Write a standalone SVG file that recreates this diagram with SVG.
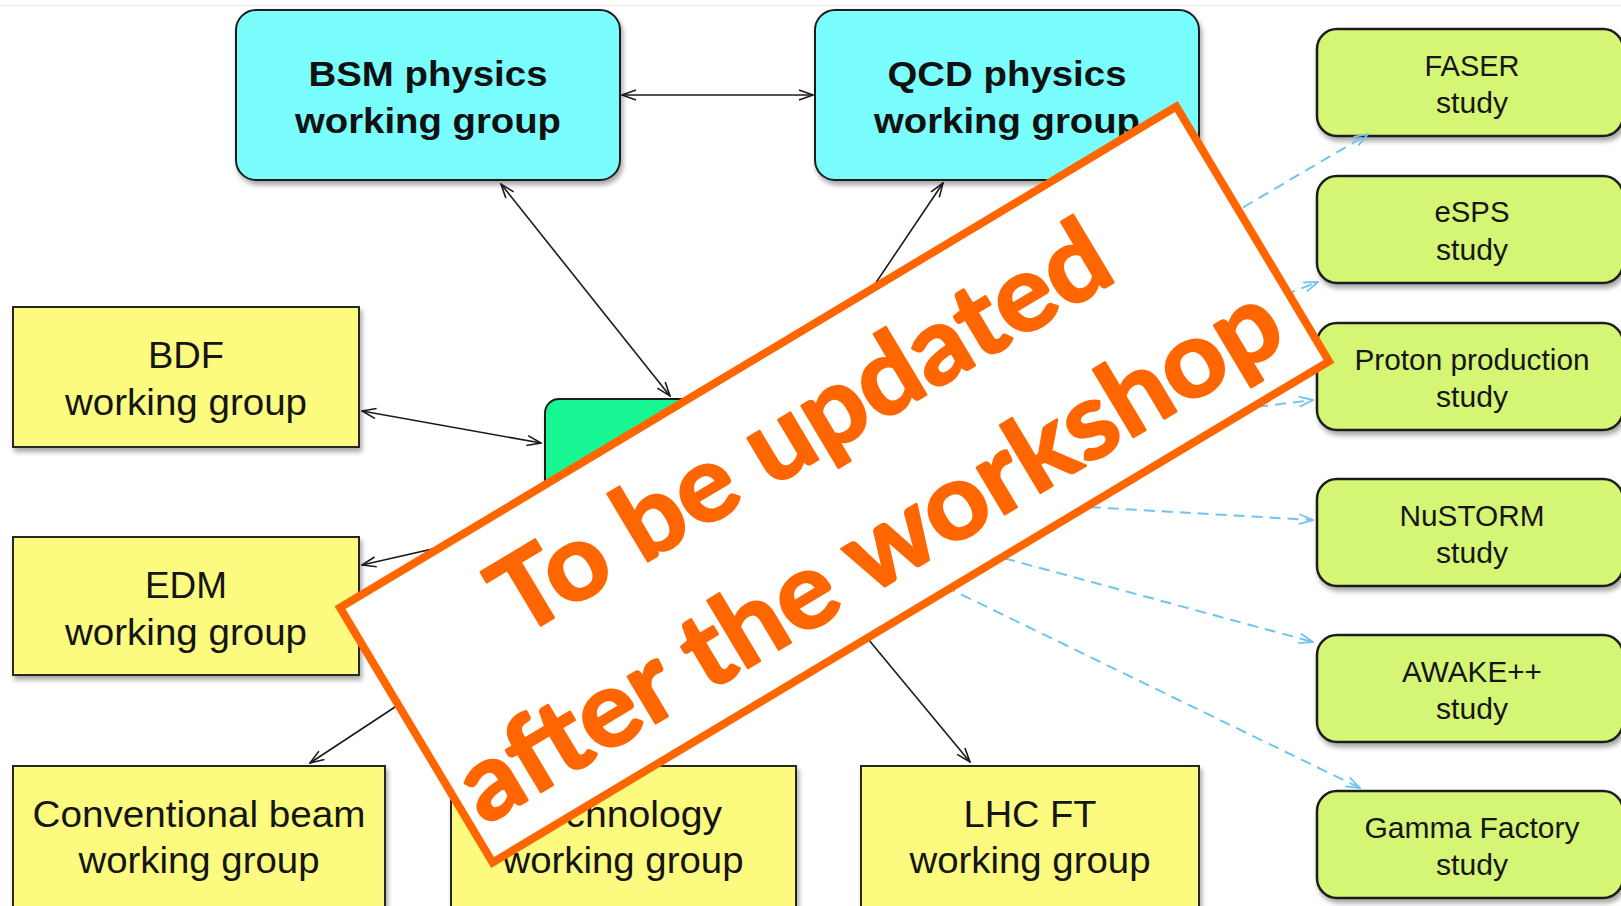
<svg xmlns="http://www.w3.org/2000/svg" width="1621" height="906" viewBox="0 0 1621 906">
  <defs>
    <filter id="shadow" x="-10%" y="-10%" width="130%" height="140%">
      <feDropShadow dx="2" dy="4" stdDeviation="2.5" flood-color="#000" flood-opacity="0.35"/>
    </filter>
    <marker id="arrow" viewBox="0 0 16 12" refX="15" refY="6" markerWidth="16" markerHeight="12" markerUnits="userSpaceOnUse" orient="auto-start-reverse">
      <path d="M1,1 L15,6 L1,11" fill="none" stroke="#1a1a1a" stroke-width="1.6"/>
    </marker>
    <marker id="arrow-blue" viewBox="0 0 16 12" refX="15" refY="6" markerWidth="16" markerHeight="12" markerUnits="userSpaceOnUse" orient="auto">
      <path d="M1,1 L15,6 L1,11" fill="none" stroke="#72c4ee" stroke-width="1.8"/>
    </marker>
    <style>
      .physics rect { fill: #79fdfd; stroke: #1e1e1e; stroke-width: 2; filter: url(#shadow); }
      .physics text { font-family: "Liberation Sans", Arial, sans-serif; font-weight: bold; font-size: 35px; fill: #111; text-anchor: middle; }
      .wg rect { fill: #fdfb7f; stroke: #262626; stroke-width: 2; filter: url(#shadow); }
      .wg text { font-family: "Liberation Sans", Arial, sans-serif; font-size: 37px; fill: #151515; text-anchor: middle; }
      .study rect { fill: #d5f575; stroke: #1f1f1f; stroke-width: 2.5; filter: url(#shadow); }
      .study text { font-family: "Liberation Sans", Arial, sans-serif; font-size: 30px; fill: #161616; text-anchor: middle; }
      .core rect { fill: #16f794; stroke: #1e1e1e; stroke-width: 2; filter: url(#shadow); }
      .link { stroke: #1a1a1a; stroke-width: 1.6; fill: none; }
      .two-way { marker-start: url(#arrow); marker-end: url(#arrow); }
      .one-way { marker-end: url(#arrow); }
      .feed { stroke: #72c4ee; stroke-width: 2; stroke-dasharray: 11 7; fill: none; marker-end: url(#arrow-blue); }
      .notice rect { fill: #ffffff; stroke: #ff6600; stroke-width: 8; }
      .notice text { font-family: Lato, "Open Sans", sans-serif; font-weight: bold; font-size: 106px; fill: #ff6600; stroke: #ff6600; stroke-width: 2.5; stroke-linejoin: round; text-anchor: middle; }
    </style>
  </defs>

  <rect width="1621" height="906" fill="#ffffff"/>
  <line x1="0" y1="5.5" x2="1621" y2="5.5" stroke="#ececec" stroke-width="1"/>

  <!-- nodes -->
  <g id="bsm-physics" class="physics">
    <rect x="236" y="10" width="384" height="170" rx="20"/>
    <text x="428" y="86" textLength="239" lengthAdjust="spacingAndGlyphs">BSM physics</text>
    <text x="428" y="133" textLength="266" lengthAdjust="spacingAndGlyphs">working group</text>
  </g>
  <g id="qcd-physics" class="physics">
    <rect x="815" y="10" width="384" height="170" rx="20"/>
    <text x="1007" y="86" textLength="239" lengthAdjust="spacingAndGlyphs">QCD physics</text>
    <text x="1007" y="133" textLength="266" lengthAdjust="spacingAndGlyphs">working group</text>
  </g>

  <g id="coordination" class="core">
    <rect x="545" y="399" width="275" height="220" rx="14"/>
  </g>

  <g id="bdf" class="wg">
    <rect x="13" y="307" width="346" height="140"/>
    <text x="186" y="368" textLength="76" lengthAdjust="spacingAndGlyphs">BDF</text>
    <text x="186" y="415" textLength="242" lengthAdjust="spacingAndGlyphs">working group</text>
  </g>
  <g id="edm" class="wg">
    <rect x="13" y="537" width="346" height="138"/>
    <text x="186" y="598" textLength="82" lengthAdjust="spacingAndGlyphs">EDM</text>
    <text x="186" y="645" textLength="242" lengthAdjust="spacingAndGlyphs">working group</text>
  </g>
  <g id="conventional-beam" class="wg">
    <rect x="13" y="766" width="372" height="160"/>
    <text x="199" y="827" textLength="333" lengthAdjust="spacingAndGlyphs">Conventional beam</text>
    <text x="199" y="873" textLength="241" lengthAdjust="spacingAndGlyphs">working group</text>
  </g>
  <g id="technology" class="wg">
    <rect x="451" y="766" width="345" height="160"/>
    <text x="623" y="827" textLength="198" lengthAdjust="spacingAndGlyphs">Technology</text>
    <text x="623" y="873" textLength="241" lengthAdjust="spacingAndGlyphs">working group</text>
  </g>
  <g id="lhc-ft" class="wg">
    <rect x="861" y="766" width="338" height="160"/>
    <text x="1030" y="827" textLength="133" lengthAdjust="spacingAndGlyphs">LHC FT</text>
    <text x="1030" y="873" textLength="241" lengthAdjust="spacingAndGlyphs">working group</text>
  </g>

  <g id="faser" class="study">
    <rect x="1317" y="29" width="306" height="107" rx="20"/>
    <text x="1472" y="76" textLength="95" lengthAdjust="spacingAndGlyphs">FASER</text>
    <text x="1472" y="113" textLength="72" lengthAdjust="spacingAndGlyphs">study</text>
  </g>
  <g id="esps" class="study">
    <rect x="1317" y="176" width="306" height="107" rx="20"/>
    <text x="1472" y="222" textLength="75" lengthAdjust="spacingAndGlyphs">eSPS</text>
    <text x="1472" y="260" textLength="72" lengthAdjust="spacingAndGlyphs">study</text>
  </g>
  <g id="proton-production" class="study">
    <rect x="1317" y="323" width="306" height="107" rx="20"/>
    <text x="1472" y="370" textLength="235" lengthAdjust="spacingAndGlyphs">Proton production</text>
    <text x="1472" y="407" textLength="72" lengthAdjust="spacingAndGlyphs">study</text>
  </g>
  <g id="nustorm" class="study">
    <rect x="1317" y="479" width="306" height="107" rx="20"/>
    <text x="1472" y="526" textLength="145" lengthAdjust="spacingAndGlyphs">NuSTORM</text>
    <text x="1472" y="563" textLength="72" lengthAdjust="spacingAndGlyphs">study</text>
  </g>
  <g id="awake" class="study">
    <rect x="1317" y="635" width="306" height="107" rx="20"/>
    <text x="1472" y="682" textLength="140" lengthAdjust="spacingAndGlyphs">AWAKE++</text>
    <text x="1472" y="719" textLength="72" lengthAdjust="spacingAndGlyphs">study</text>
  </g>
  <g id="gamma-factory" class="study">
    <rect x="1317" y="791" width="306" height="107" rx="20"/>
    <text x="1472" y="838" textLength="215" lengthAdjust="spacingAndGlyphs">Gamma Factory</text>
    <text x="1472" y="875" textLength="72" lengthAdjust="spacingAndGlyphs">study</text>
  </g>

  <!-- connectors -->
  <g id="connectors">
    <line class="link two-way" x1="622" y1="95" x2="813" y2="95"/>
    <line class="link two-way" x1="501" y1="184" x2="670" y2="396"/>
    <line class="link one-way" x1="797" y1="400" x2="943" y2="183"/>
    <line class="link two-way" x1="362" y1="411" x2="541" y2="443"/>
    <line class="link one-way" x1="560" y1="520" x2="362" y2="565"/>
    <line class="link one-way" x1="474" y1="655" x2="310" y2="763"/>
    <line class="link one-way" x1="844" y1="610" x2="970" y2="762"/>

    <path class="feed" d="M1150,262 L1368,134"/>
    <path class="feed" d="M1150,346 L1318,282"/>
    <path class="feed" d="M1150,420 L1313,400"/>
    <path class="feed" d="M1000,502 L1313,520"/>
    <path class="feed" d="M900,530 L1313,642"/>
    <path class="feed" d="M880,555 L1360,788"/>
  </g>

  <!-- overlay notice -->
  <g id="notice" class="notice" transform="translate(834.5 484.5) rotate(-30.93)">
    <rect x="-487.5" y="-148.5" width="975" height="297"/>
    <text x="0" y="-30" textLength="700" lengthAdjust="spacingAndGlyphs">To be updated</text>
    <text x="-6" y="113" textLength="940" lengthAdjust="spacingAndGlyphs">after the workshop</text>
  </g>
</svg>
